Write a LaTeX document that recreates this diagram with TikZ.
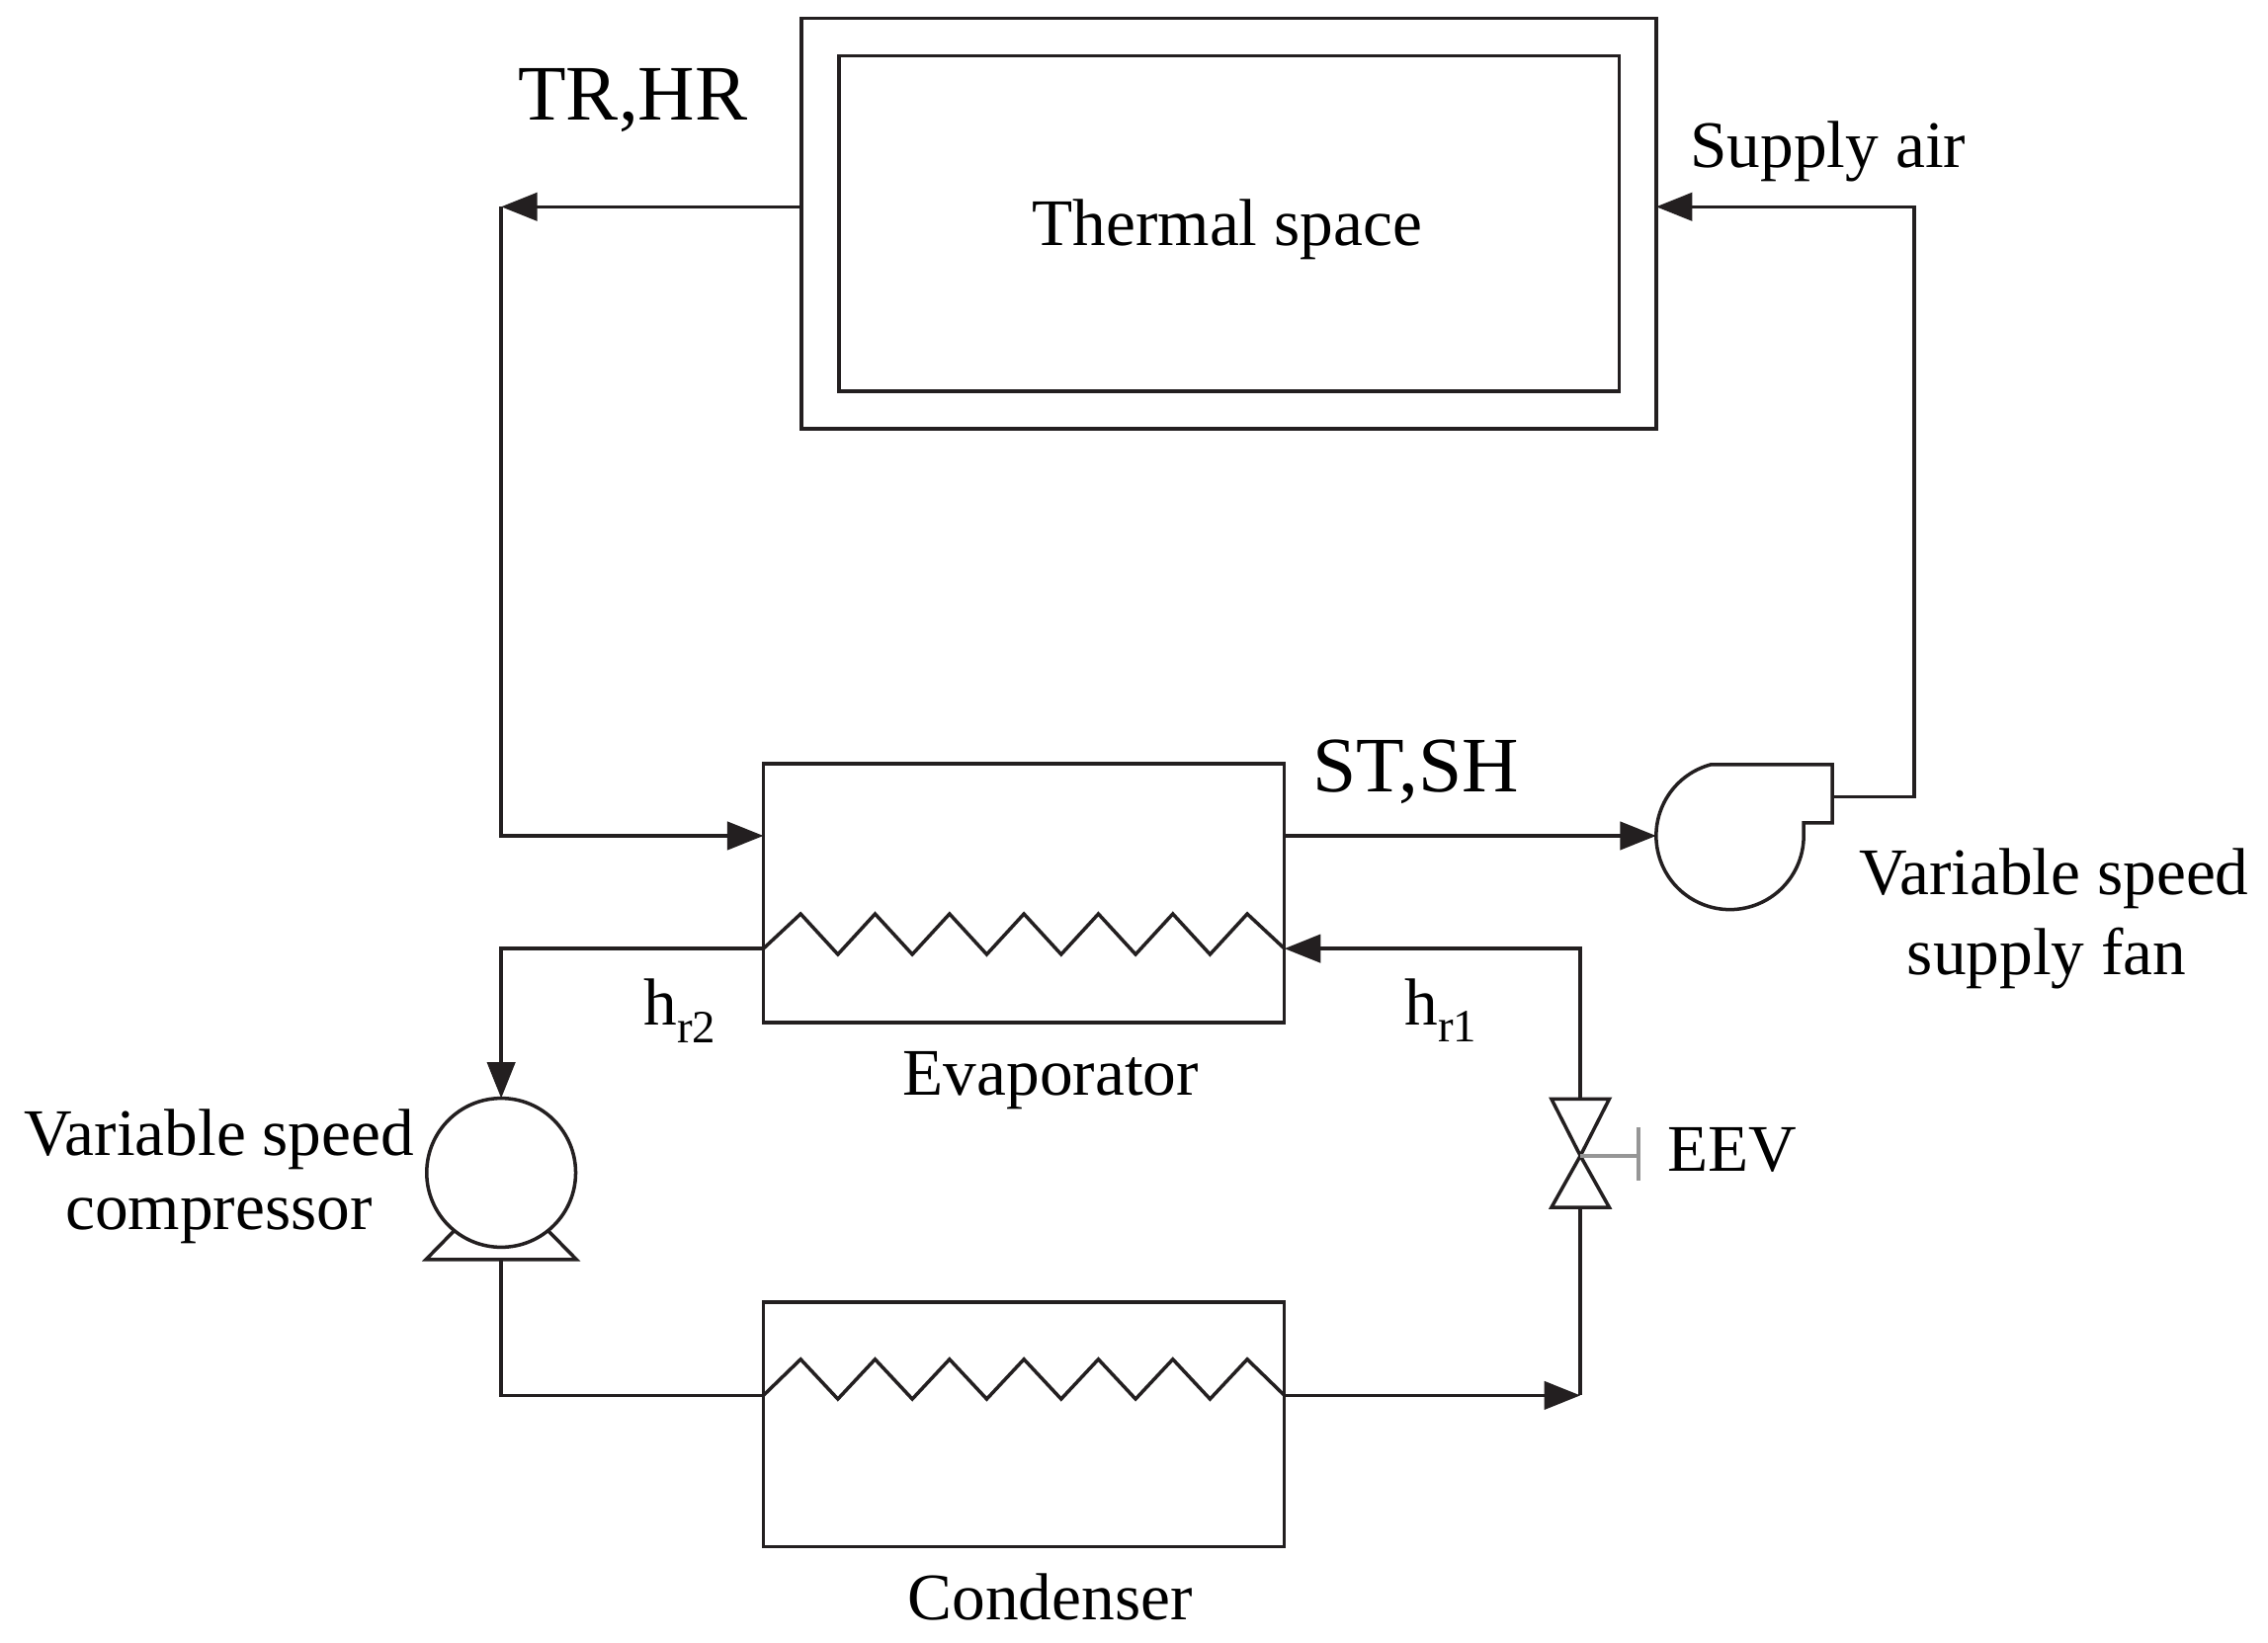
\documentclass[tikz,border=0pt]{standalone}
\usepackage{fontspec}
\setmainfont{Liberation Serif}
\usetikzlibrary{arrows.meta}
\definecolor{ink}{RGB}{35,31,32}
\definecolor{stemgray}{RGB}{150,150,150}
\tikzset{
  ln/.style={draw=ink, line width=0.72pt},
  flow/.style={ln, -{Triangle[length=7.5pt,width=5.8pt]}},
  box/.style={ln, rectangle, inner sep=0pt, outer sep=0pt},
  txt/.style={font=\fontsize{13.8}{16}\selectfont, inner sep=0pt, anchor=base, text=black},
  bigtxt/.style={font=\fontsize{16.3}{19}\selectfont, inner sep=0pt, anchor=base west, text=black}
}
\begin{document}
\begin{tikzpicture}[x=0.3pt,y=0.3pt]
\fill[white] (0,0) rectangle (1568,1136);
\useasboundingbox (0,0) rectangle (1568,1136);

% boxes
\node[box, minimum width=177.3pt, minimum height=85.2pt] (ts) at (849.5,981.5) {};
\node[box, minimum width=161.85pt, minimum height=69.54pt] (tsin) at (849.75,981.4) {};
\node[box, minimum width=108.06pt, minimum height=53.7pt] (ev) at (707.9,518.5) {};
\node[box, minimum width=108.06pt, minimum height=50.7pt] (cd) at (707.9,151) {};
\node[ln, circle, inner sep=0pt, outer sep=0pt, minimum size=30.9pt] (comp) at (346.5,325) {};

% helper coordinates
\coordinate (retL) at (346.5,993);
\coordinate (airY) at (0,558);
\coordinate (coilev) at (0,480);
\coordinate (coilcd) at (0,171);
\coordinate (fanc) at (1196,558);
\coordinate (fanin) at (1145,558);
\coordinate (fanout) at (1266.7,585);
\coordinate (sa) at (1323.5,993);
\coordinate (cb) at (346.5,265);
\coordinate (cbl) at (294.5,265);
\coordinate (cbr) at (398.5,265);
\coordinate (vc) at (1092.6,336.7);
\coordinate (vt) at (1092.6,376);
\coordinate (vb) at (1092.6,301);
\coordinate (stemend) at (1133,336.7);

% fan
\draw[ln] (fanc) ++(105:51) arc[start angle=105, end angle=360, radius=51]
  -- (1247,567) -- (1266.7,567) -- (1266.7,607.3) -- cycle;

% compressor base
\draw[ln] (comp.231) -- (cbl) -- (cbr) -- (comp.309);

% valve
\draw[ln] (vt) ++(-20,0) -- ++(40,0) -- (vc) -- cycle;
\draw[ln] (vb) ++(-20,0) -- ++(40,0) -- (vc) -- cycle;
\draw[draw=stemgray, line width=0.8pt] (vc) -- (stemend);
\draw[draw=stemgray, line width=0.8pt] (1133,356.3) -- (1133,319.4);

% coils
\draw[ln] (ev.west|-coilev) -- ++(25.73,24)
  \foreach \k in {1,...,6}{ -- ++(25.73,-28) -- ++(25.73,28) } -- ++(25.73,-24);
\draw[ln] (cd.west|-coilcd) -- ++(25.73,25)
  \foreach \k in {1,...,6}{ -- ++(25.73,-27.5) -- ++(25.73,27.5) } -- ++(25.73,-25);

% air loop
\draw[flow] (ts.west|-retL) -- (retL);
\draw[flow] (retL) |- (ev.west|-airY);
\draw[flow] (ev.east|-airY) -- (fanin);
\draw[flow] (fanout) -| (sa) -- (ts.east|-sa);

% refrigerant loop
\draw[flow] (ev.west|-coilev) -| (comp.north);
\draw[ln] (cb) |- (cd.west|-coilcd);
\draw[flow] (cd.east|-coilcd) -- (vb|-coilcd);
\draw[ln] (vb|-coilcd) -- (vb);
\draw[flow] (vt) |- (ev.east|-coilev);

% labels
\node[bigtxt] (trhr) at (357.6,1053) {TR,HR};
\node[txt] (tslbl) at (848.4,966.5) {Thermal space};
\node[txt, anchor=base west] (supply) at (1168,1020) {Supply air};
\node[bigtxt] (stsh) at (907,588.7) {ST,SH};
\node[txt] (fan1) at (1420,517) {Variable speed};
\node[txt] (fan2) at (1415,462) {supply fan};
\node[txt] (comp1) at (151.5,337.2) {Variable speed};
\node[txt] (comp2) at (151.3,285.4) {compressor};
\node[txt, anchor=base west] (hr2) at (444.4,427) {h\raisebox{-3.6pt}{\fontsize{9.6}{10}\selectfont r2}};
\node[txt, anchor=base west] (hr1) at (970.5,427.2) {h\raisebox{-3.6pt}{\fontsize{9.6}{10}\selectfont r1}};
\node[txt] (evlbl) at (726.5,378.4) {Evaporator};
\node[txt] (cdlbl) at (726,16) {Condenser};
\node[txt, anchor=base west] (eev) at (1152,326) {EEV};
\end{tikzpicture}
\end{document}
